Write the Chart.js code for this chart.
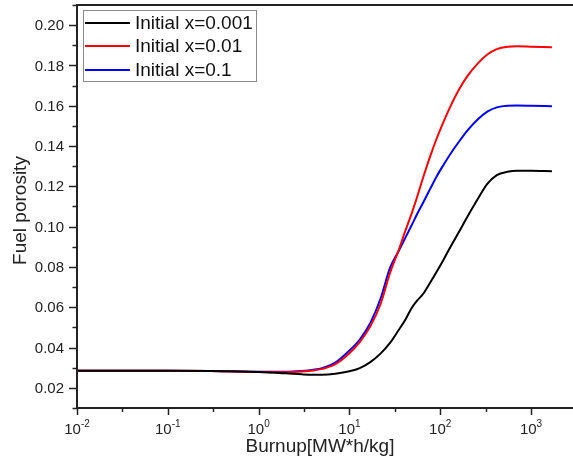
<!DOCTYPE html>
<html>
<head>
<meta charset="utf-8">
<script src="https://cdn.jsdelivr.net/npm/chart.js@4/dist/chart.umd.min.js"></script>
<style>
html,body{margin:0;padding:0;background:#fff;}
canvas{display:block;}
</style>
</head>
<body>
<canvas id="c" width="573" height="458"></canvas>
<script>
// ---- data ----
const burnup = [0.01, 0.03, 0.1, 0.3, 1, 2, 3, 4, 5, 7, 10, 13, 17, 22, 28, 35, 41, 48, 55, 65, 77, 91, 110, 130, 160, 200, 260, 330, 420, 550, 700, 1000, 1700];
const porosityX0001 = [0.0285, 0.0285, 0.0285, 0.0284, 0.0279, 0.0272, 0.0267, 0.0265, 0.0265, 0.0270, 0.0282, 0.0298, 0.0328, 0.0370, 0.0423, 0.0488, 0.0535, 0.0593, 0.0630, 0.0667, 0.0720, 0.0775, 0.0840, 0.0900, 0.0972, 0.1050, 0.1138, 0.1212, 0.1256, 0.1272, 0.1277, 0.1277, 0.1275];
const porosityX001  = [0.0285, 0.0285, 0.0285, 0.0284, 0.0279, 0.0278, 0.0281, 0.0286, 0.0294, 0.0318, 0.0372, 0.0427, 0.0505, 0.0615, 0.0770, 0.0885, 0.0975, 0.1060, 0.1140, 0.1245, 0.1345, 0.1435, 0.1525, 0.1598, 0.1678, 0.1748, 0.1810, 0.1854, 0.1881, 0.1893, 0.1895, 0.1893, 0.1890];
const porosityX01   = [0.0285, 0.0285, 0.0285, 0.0284, 0.0280, 0.0280, 0.0284, 0.0290, 0.0298, 0.0325, 0.0385, 0.0440, 0.0522, 0.0642, 0.0795, 0.0880, 0.0942, 0.1003, 0.1058, 0.1120, 0.1185, 0.1248, 0.1310, 0.1362, 0.1420, 0.1478, 0.1533, 0.1571, 0.1592, 0.1600, 0.1601, 0.1600, 0.1598];
const seriesLabels = ["Initial x=0.001", "Initial x=0.01", "Initial x=0.1"];
const seriesColors = ["#000000", "#ff0000", "#0000ff"];
const xMajorExponents = [-2, -1, 0, 1, 2, 3];
const xMinorExponents = [-1.5, -0.5, 0.5, 1.5, 2.5];
const yMajorTicks = [0.02, 0.04, 0.06, 0.08, 0.10, 0.12, 0.14, 0.16, 0.18, 0.20];
const yMinorTicks = [0.01, 0.03, 0.05, 0.07, 0.09, 0.11, 0.13, 0.15, 0.17, 0.19, 0.21];
const xTitle = "Burnup[MW*h/kg]";
const yTitle = "Fuel porosity";

const FONT = '"Liberation Sans", Arial, sans-serif';
const AXIS = '#222';

const seriesValues = [porosityX0001, porosityX001, porosityX01];
const datasets = seriesValues.map((vals, i) => ({
  label: seriesLabels[i],
  data: burnup.map((b, j) => ({x: b, y: vals[j]})),
  borderColor: seriesColors[i],
  backgroundColor: seriesColors[i],
  borderWidth: 2,
  pointRadius: 0,
  fill: false,
  cubicInterpolationMode: 'monotone'
}));

const axesPlugin = {
  id: 'originAxes',
  afterDraw(chart) {
    const ctx = chart.ctx;
    const a = chart.chartArea;
    const xs = chart.scales.x, ys = chart.scales.y;
    ctx.save();
    ctx.strokeStyle = AXIS;
    ctx.fillStyle = AXIS;
    ctx.lineWidth = 2;
    // frame: left, bottom, top
    ctx.beginPath();
    ctx.moveTo(a.left, a.top); ctx.lineTo(a.left, a.bottom);
    ctx.moveTo(a.left - 1, a.bottom); ctx.lineTo(chart.width, a.bottom);
    ctx.moveTo(a.left - 1, a.top); ctx.lineTo(chart.width, a.top);
    ctx.stroke();
    // y ticks
    ctx.lineWidth = 1.5;
    ctx.beginPath();
    yMajorTicks.forEach(v => { const y = Math.round(ys.getPixelForValue(v)) + 0.5; ctx.moveTo(a.left - 8, y); ctx.lineTo(a.left, y); });
    yMinorTicks.forEach(v => { const y = Math.round(ys.getPixelForValue(v)) + 0.5; ctx.moveTo(a.left - 4.5, y); ctx.lineTo(a.left, y); });
    // x ticks
    xMajorExponents.forEach(e => { const x = Math.round(xs.getPixelForValue(Math.pow(10, e))) + 0.5; ctx.moveTo(x, a.bottom); ctx.lineTo(x, a.bottom + 7); });
    xMinorExponents.forEach(e => { const x = Math.round(xs.getPixelForValue(Math.pow(10, e))) + 0.5; ctx.moveTo(x, a.bottom); ctx.lineTo(x, a.bottom + 4); });
    ctx.stroke();
    // y labels
    ctx.font = '15px ' + FONT;
    ctx.textAlign = 'right';
    ctx.textBaseline = 'middle';
    yMajorTicks.forEach(v => { ctx.fillText(v.toFixed(2), a.left - 13, ys.getPixelForValue(v) + 1); });
    // x labels 10^n
    ctx.textBaseline = 'alphabetic';
    ctx.textAlign = 'left';
    xMajorExponents.forEach(e => {
      const x = xs.getPixelForValue(Math.pow(10, e));
      ctx.font = '15px ' + FONT;
      const base = '10';
      const wb = ctx.measureText(base).width;
      ctx.font = '10px ' + FONT;
      const sup = String(e);
      const ws = ctx.measureText(sup).width;
      const start = x - (wb + ws) / 2;
      ctx.font = '15px ' + FONT;
      ctx.fillText(base, start, a.bottom + 26);
      ctx.font = '10px ' + FONT;
      ctx.fillText(sup, start + wb, a.bottom + 19);
    });
    // axis titles
    ctx.font = '19px ' + FONT;
    ctx.textAlign = 'center';
    ctx.fillText(xTitle, (a.left + a.right) / 2 - 5, a.bottom + 44);
    ctx.save();
    ctx.translate(26, (a.top + a.bottom) / 2 + 4);
    ctx.rotate(-Math.PI / 2);
    ctx.fillText(yTitle, 0, 0);
    ctx.restore();
    // legend
    const lx = 83, ly = 10, lw = 173, lh = 71;
    ctx.strokeStyle = '#8a8a8a';
    ctx.lineWidth = 1;
    ctx.strokeRect(lx + 0.5, ly + 0.5, lw, lh);
    const rowY = [23, 46, 70];
    seriesLabels.forEach((lab, i) => {
      ctx.strokeStyle = seriesColors[i];
      ctx.lineWidth = 2;
      ctx.beginPath();
      ctx.moveTo(85, rowY[i]); ctx.lineTo(130, rowY[i]);
      ctx.stroke();
      ctx.fillStyle = '#111';
      ctx.font = '19px ' + FONT;
      ctx.textAlign = 'left';
      ctx.textBaseline = 'middle';
      ctx.fillText(lab, 135, rowY[i] + 1);
    });
    ctx.restore();
  }
};

new Chart(document.getElementById('c'), {
  type: 'line',
  data: { datasets },
  options: {
    responsive: false,
    animation: false,
    layout: { padding: { left: 77, top: 5, right: 0, bottom: 50 } },
    scales: {
      x: { type: 'logarithmic', min: 0.01, max: 2900, display: false },
      y: { type: 'linear', min: 0.01, max: 0.21, display: false }
    },
    plugins: { legend: { display: false }, tooltip: { enabled: false } }
  },
  plugins: [axesPlugin]
});
</script>
</body>
</html>
